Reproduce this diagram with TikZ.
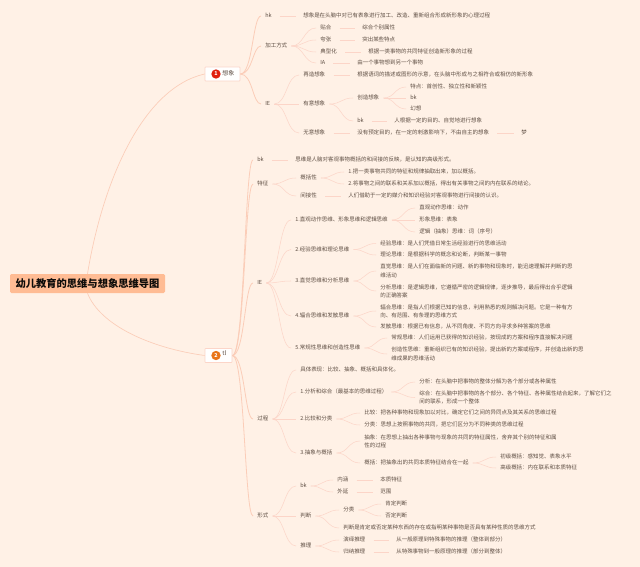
\documentclass[tikz,border=0pt]{standalone}
\usepackage{fontspec}
\setmainfont{Noto Sans CJK SC}
\usepackage{xcolor}
\usetikzlibrary{positioning,calc}
\definecolor{paperc}{HTML}{FFF1E6}
\definecolor{linkc}{HTML}{FCD5C8}
\definecolor{trunkc}{HTML}{FBCDB8}
\definecolor{inkc}{HTML}{5F4F44}
\definecolor{rootc}{HTML}{FFBC94}
\definecolor{badgea}{HTML}{E0200F}
\definecolor{badgeb}{HTML}{E8751A}
\newcommand{\qdou}{^^^^ff0c}
\newcommand{\qmao}{^^^^ff1a}
\newcommand{\qzuo}{^^^^ff08}
\newcommand{\qyou}{^^^^ff09}
\tikzset{
  leaf/.style={font=\fontsize{4.12}{6.15}\selectfont, text=inkc, anchor=west, inner sep=0pt, text height=3.4pt, text depth=.6pt},
  para/.style={font=\fontsize{4.12}{6.15}\selectfont, text=inkc, anchor=west, inner sep=0pt, align=left},
  topic/.style={draw=linkc, fill=white, line width=.6pt, rounded corners=.5pt, inner sep=0pt, minimum height=10.5pt},
  badge/.style={circle, inner sep=0pt, minimum size=7pt, text=white, font=\fontsize{4}{5}\selectfont\bfseries},
  fan/.style={draw=linkc, line width=.4pt, shorten <=3pt, shorten >=3pt, to path={(\tikztostart.east) .. controls ($(\tikztostart.east)!.5!(\tikztotarget.west |- \tikztostart.east)$) and ($(\tikztotarget.west)!.5!(\tikztostart.east |- \tikztotarget.west)$) .. (\tikztotarget.west)}},
  stem/.style={fan, shorten <=6pt, shorten >=5pt},
  trunk/.style={fan, draw=trunkc, line width=.6pt, shorten <=0pt}
}
\begin{document}
\begin{tikzpicture}[x=.75pt,y=-.75pt]
  \useasboundingbox (0,0) rectangle (640,567);
  \fill[paperc] (0,0) rectangle (640,567);

  % Root
  \node[fill=rootc, rounded corners=1pt, inner sep=0pt, minimum width=116.25pt, minimum height=14.25pt, font=\fontsize{7.7}{9}\selectfont\bfseries, text=black!85!inkc] (root) at (87.5,283.5) {幼儿教育的思维与想象思维导图};

  % First topic
  \node[topic, minimum width=26.25pt] (imagine) at (222.5,74) {};
  \node[badge, fill=badgea] (imaginebadge) at (216,74) {1};
  \node[leaf, font=\fontsize{4.5}{6}\selectfont] (imaginetext) at (222,74) {想象};
  % Second topic
  \node[topic, minimum width=20.25pt] (think) at (218.5,355.5) {};
  \node[badge, fill=badgeb] (thinkbadge) at (216,355.5) {2};
  \node[leaf, font=\fontsize{4.5}{6}\selectfont] (thinktext) at (222,354) {tl};

  % Imagination: definition
  \node[leaf] (ia) at (265,16) {hk};
  \node[leaf] (iadef) at (303,16) {想象是在头脑中对已有表象进行加工、改造、重新组合形成新形象的心理过程};
  % Imagination: ways of working
  \node[leaf] (ib) at (265,46) {加工方式};
  \node[leaf] (ib1) at (320,28) {贴合};
  \node[leaf] (ib1x) at (362,28) {综合个别属性};
  \node[leaf] (ib2) at (320,40) {夸张};
  \node[leaf] (ib2x) at (362,40) {突出某些特点};
  \node[leaf] (ib3) at (320,52) {典型化};
  \node[leaf] (ib3x) at (368,52) {根据一类事物的共同特征创造新形象的过程};
  \node[leaf] (ib4) at (320,63) {IA};
  \node[leaf] (ib4x) at (357,63) {由一个事物想到另一个事物};
  % Imagination: kinds
  \node[leaf] (ic) at (265,104) {IE};
  \node[leaf] (ic1) at (303,75) {再造想象};
  \node[leaf] (ic1x) at (357,75) {根据语词的描述或图形的示意\qdou{}在头脑中形成与之相符合或相仿的新形象};
  \node[leaf] (ic2) at (303,104) {有意想象};
  \node[leaf] (ic2a) at (357,98) {创造想象};
  \node[leaf] (ic2a1) at (410,87) {特点\qmao{}首创性、独立性和新颖性};
  \node[leaf] (ic2a2) at (410,98) {bk};
  \node[leaf] (ic2a3) at (410,109) {幻想};
  \node[leaf] (ic2b) at (357,121) {bk};
  \node[leaf] (ic2bx) at (394,121) {人根据一定的目的、自觉地进行想象};
  \node[leaf] (ic3) at (303,133) {无意想象};
  \node[leaf] (ic3x) at (357,133) {没有预定目的\qdou{}在一定的刺激影响下\qdou{}不由自主的想象};
  \node[leaf] (ic3y) at (521,133) {梦};

  % Thinking: definition
  \node[leaf] (ta) at (257,160) {bk};
  \node[leaf] (tax) at (295,160) {思维是人脑对客观事物概括的和间接的反映\qdou{}是认知的高级形式。};
  % Thinking: features
  \node[leaf] (tb) at (257,184) {特征};
  \node[leaf] (tb1) at (300,178) {概括性};
  \node[leaf] (tb1a) at (348,172) {1.把一类事物共同的特征和规律抽取出来\qdou{}加以概括。};
  \node[leaf] (tb1b) at (348,184) {2.将事物之间的联系和关系加以概括\qdou{}得出有关事物之间的内在联系的结论。};
  \node[leaf] (tb2) at (300,196) {间接性};
  \node[leaf] (tb2x) at (348,196) {人们借助于一定的媒介和知识经验对客观事物进行间接的认识。};
  % Thinking: kinds
  \node[leaf] (tc) at (257,283) {IE};
  \node[leaf] (tc1) at (295,220) {1.直观动作思维、形象思维和逻辑思维};
  \node[leaf] (tc1a) at (419,208) {直观动作思维\qmao{}动作};
  \node[leaf] (tc1b) at (419,220) {形象思维\qmao{}表象};
  \node[leaf] (tc1c) at (419,232) {逻辑\qzuo{}抽象\qyou{}思维\qmao{}词\qzuo{}序号\qyou{}};
  \node[leaf] (tc2) at (295,249.5) {2.经验思维和理论思维};
  \node[leaf] (tc2a) at (380,243.5) {经验思维\qmao{}是人们凭借日常生活经验进行的思维活动};
  \node[leaf] (tc2b) at (380,255) {理论思维\qmao{}是根据科学的概念和论断\qdou{}判断某一事物};
  \node[leaf] (tc3) at (295,281) {3.直觉思维和分析思维};
  \node[para] (tc3a) at (380,271) {直觉思维\qmao{}是人们在面临新的问题、新的事物和现象时\qdou{}能迅速理解并判断的思\\维活动};
  \node[para] (tc3b) at (380,291) {分析思维\qmao{}是逻辑思维\qdou{}它遵循严密的逻辑规律\qdou{}逐步推导\qdou{}最后得出合乎逻辑\\的正确答案};
  \node[leaf] (tc4) at (295,316) {4.辐合思维和发散思维};
  \node[para] (tc4a) at (380,311) {辐合思维\qmao{}是指人们根据已知的信息\qdou{}利用熟悉的规则解决问题。它是一种有方\\向、有范围、有条理的思维方式};
  \node[leaf] (tc4b) at (380,327) {发散思维\qmao{}根据已有信息\qdou{}从不同角度、不同方向寻求多种答案的思维};
  \node[leaf] (tc5) at (295,348) {5.常规性思维和创造性思维};
  \node[leaf] (tc5a) at (391,338) {常规思维\qmao{}人们运用已获得的知识经验\qdou{}按现成的方案和程序直接解决问题};
  \node[para] (tc5b) at (391,354) {创造性思维\qmao{}重新组织已有的知识经验\qdou{}提出新的方案或程序\qdou{}并创造出新的思\\维成果的思维活动};
  % Thinking: process
  \node[leaf] (td) at (257,419) {过程};
  \node[leaf] (td0) at (300,370) {具体表现\qmao{}比较、抽象、概括和具体化。};
  \node[leaf] (td1) at (300,392) {1.分析和综合\qzuo{}最基本的思维过程\qyou{}};
  \node[leaf] (td1a) at (419,382) {分析\qmao{}在头脑中把事物的整体分解为各个部分或各种属性};
  \node[para] (td1b) at (419,397.5) {综合\qmao{}在头脑中把事物的各个部分、各个特征、各种属性结合起来\qdou{}了解它们之\\间的联系\qdou{}形成一个整体};
  \node[leaf] (td2) at (300,419) {2.比较和分类};
  \node[leaf] (td2a) at (364,413) {比较\qmao{}把各种事物和现象加以对比\qdou{}确定它们之间的异同点及其关系的思维过程};
  \node[leaf] (td2b) at (364,425) {分类\qmao{}思想上按照事物的共同\qdou{}把它们区分为不同种类的思维过程};
  \node[leaf] (td3) at (300,453) {3.抽象与概括};
  \node[para] (td3a) at (364,441) {抽象\qmao{}在思想上抽出各种事物与现象的共同的特征属性\qdou{}舍弃其个别的特征和属\\性的过程};
  \node[leaf] (td3b) at (364,463) {概括\qmao{}把抽象出的共同本质特征结合在一起};
  \node[leaf] (td3b1) at (500,457) {初级概括\qmao{}感知觉、表象水平};
  \node[leaf] (td3b2) at (500,468) {高级概括\qmao{}内在联系和本质特征};
  % Thinking: forms
  \node[leaf] (te) at (257,516) {形式};
  \node[leaf] (te1) at (300,486) {bk};
  \node[leaf] (te1a) at (337,480) {内涵};
  \node[leaf] (te1ax) at (380,480) {本质特征};
  \node[leaf] (te1b) at (337,492) {外延};
  \node[leaf] (te1bx) at (380,492) {范围};
  \node[leaf] (te2) at (300,516) {判断};
  \node[leaf] (te2a) at (343,510) {分类};
  \node[leaf] (te2a1) at (385,504) {肯定判断};
  \node[leaf] (te2a2) at (385,516) {否定判断};
  \node[leaf] (te2b) at (343,528) {判断是肯定或否定某种东西的存在或指明某种事物是否具有某种性质的思维方式};
  \node[leaf] (te3) at (300,546) {推理};
  \node[leaf] (te3a) at (343,540) {演绎推理};
  \node[leaf] (te3ax) at (396,540) {从一般原理到特殊事物的推理\qzuo{}整体到部分\qyou{}};
  \node[leaf] (te3b) at (343,552) {归纳推理};
  \node[leaf] (te3bx) at (396,552) {从特殊事物到一般原理的推理\qzuo{}部分到整体\qyou{}};

  % Root to topics
  \draw[trunkc, line width=.5pt] (root.north) .. controls (103,180) and (143,88) .. (imagine.west);
  \draw[trunkc, line width=.5pt] (root.south) .. controls (100,325) and (150,348) .. (think.west);

  % Imagination connectors
  \draw[trunk] (imagine) to (ia);
  \draw[trunk] (imagine) to (ib);
  \draw[trunk] (imagine) to (ic);
  \draw[stem] (ia) to (iadef);
  \draw[fan] (ib) to (ib1);
  \draw[fan] (ib) to (ib2);
  \draw[fan] (ib) to (ib3);
  \draw[fan] (ib) to (ib4);
  \draw[stem] (ib1) to (ib1x);
  \draw[stem] (ib2) to (ib2x);
  \draw[stem] (ib3) to (ib3x);
  \draw[stem] (ib4) to (ib4x);
  \draw[fan] (ic) to (ic1);
  \draw[fan] (ic) to (ic2);
  \draw[fan] (ic) to (ic3);
  \draw[stem] (ic1) to (ic1x);
  \draw[fan] (ic2) to (ic2a);
  \draw[fan] (ic2) to (ic2b);
  \draw[fan] (ic2a) to (ic2a1);
  \draw[fan] (ic2a) to (ic2a2);
  \draw[fan] (ic2a) to (ic2a3);
  \draw[stem] (ic2b) to (ic2bx);
  \draw[stem] (ic3) to (ic3x);
  \draw[stem] (ic3x) to (ic3y);

  % Thinking connectors
  \draw[trunk] (think) to (ta);
  \draw[trunk] (think) to (tb);
  \draw[trunk] (think) to (tc);
  \draw[trunk] (think) to (td);
  \draw[trunk] (think) to (te);
  \draw[stem] (ta) to (tax);
  \draw[fan] (tb) to (tb1);
  \draw[fan] (tb) to (tb2);
  \draw[fan] (tb1) to (tb1a);
  \draw[fan] (tb1) to (tb1b);
  \draw[stem] (tb2) to (tb2x);
  \draw[fan] (tc) to (tc1);
  \draw[fan] (tc) to (tc2);
  \draw[fan] (tc) to (tc3);
  \draw[fan] (tc) to (tc4);
  \draw[fan] (tc) to (tc5);
  \draw[fan] (tc1) to (tc1a);
  \draw[fan] (tc1) to (tc1b);
  \draw[fan] (tc1) to (tc1c);
  \draw[fan] (tc2) to (tc2a);
  \draw[fan] (tc2) to (tc2b);
  \draw[fan] (tc3) to (tc3a);
  \draw[fan] (tc3) to (tc3b);
  \draw[fan] (tc4) to (tc4a);
  \draw[fan] (tc4) to (tc4b);
  \draw[fan] (tc5) to (tc5a);
  \draw[fan] (tc5) to (tc5b);
  \draw[fan] (td) to (td0);
  \draw[fan] (td) to (td1);
  \draw[fan] (td) to (td2);
  \draw[fan] (td) to (td3);
  \draw[fan] (td1) to (td1a);
  \draw[fan] (td1) to (td1b);
  \draw[fan] (td2) to (td2a);
  \draw[fan] (td2) to (td2b);
  \draw[fan] (td3) to (td3a);
  \draw[fan] (td3) to (td3b);
  \draw[fan] (td3b) to (td3b1);
  \draw[fan] (td3b) to (td3b2);
  \draw[fan] (te) to (te1);
  \draw[fan] (te) to (te2);
  \draw[fan] (te) to (te3);
  \draw[fan] (te1) to (te1a);
  \draw[fan] (te1) to (te1b);
  \draw[stem] (te1a) to (te1ax);
  \draw[stem] (te1b) to (te1bx);
  \draw[fan] (te2) to (te2a);
  \draw[fan] (te2) to (te2b);
  \draw[fan] (te2a) to (te2a1);
  \draw[fan] (te2a) to (te2a2);
  \draw[fan] (te3) to (te3a);
  \draw[fan] (te3) to (te3b);
  \draw[stem] (te3a) to (te3ax);
  \draw[stem] (te3b) to (te3bx);
\end{tikzpicture}
\end{document}
